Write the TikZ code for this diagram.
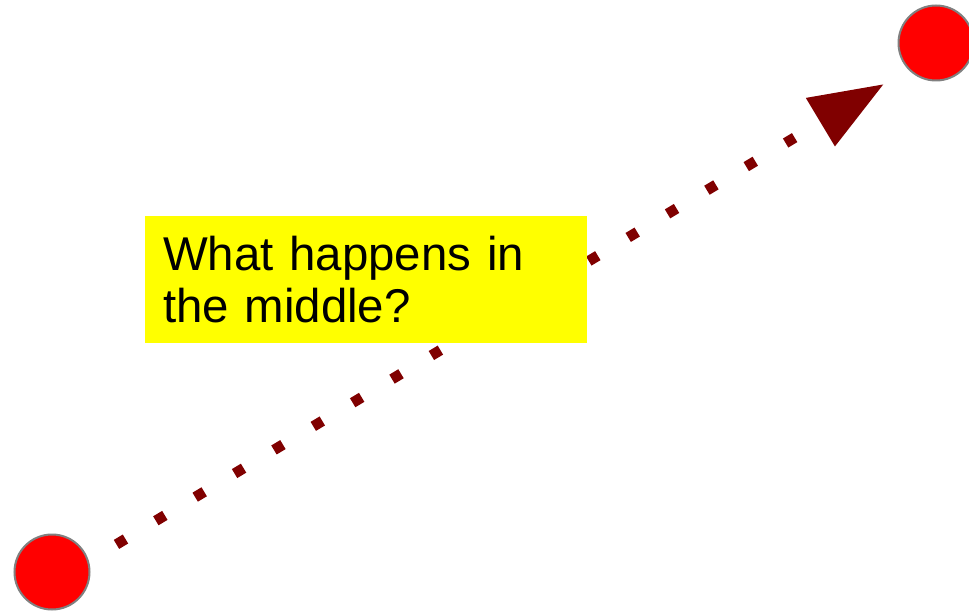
\documentclass[tikz,border=0pt]{standalone}
\usepackage{fontspec}
\setmainfont{Liberation Sans}
\usetikzlibrary{arrows.meta,backgrounds}
\definecolor{maroonline}{RGB}{128,0,0}
\definecolor{rimgray}{RGB}{128,128,128}
\definecolor{dotred}{RGB}{255,0,0}
\definecolor{notepaper}{RGB}{255,255,0}

\begin{document}
\begin{tikzpicture}[
        x=1pt, y=-1pt,
        endpt/.style={circle, draw=rimgray, line width=2pt, fill=dotred, minimum size=75pt, inner sep=0pt},
        qbox/.style={rectangle, fill=notepaper, minimum width=442pt, minimum height=127pt, inner xsep=18pt, text width=406pt, align=left, font=\fontsize{47.4}{51.7}\selectfont},
        flow/.style={draw=maroonline, line width=10.5pt, dash pattern=on 10.5pt off 35.4pt, dash phase=16.6pt, -{Triangle[length=74.2pt, width=53.5pt]}}
    ]
    \useasboundingbox (0,0) rectangle (969,612);

    % end points
    \node[endpt] (src) at (52,572) {};
    \node[endpt] (dst) at (936,43) {};
    \coordinate (tip) at (884,84);

    % question box
    \node[qbox] (q) at (366,279.5) {What happens in\\the middle?};

    % dotted connector, behind the rest
    \begin{pgfonlayer}{background}
        \draw[flow] ([yshift=-11.1pt]src.center) -- (tip);
    \end{pgfonlayer}
\end{tikzpicture}
\end{document}
